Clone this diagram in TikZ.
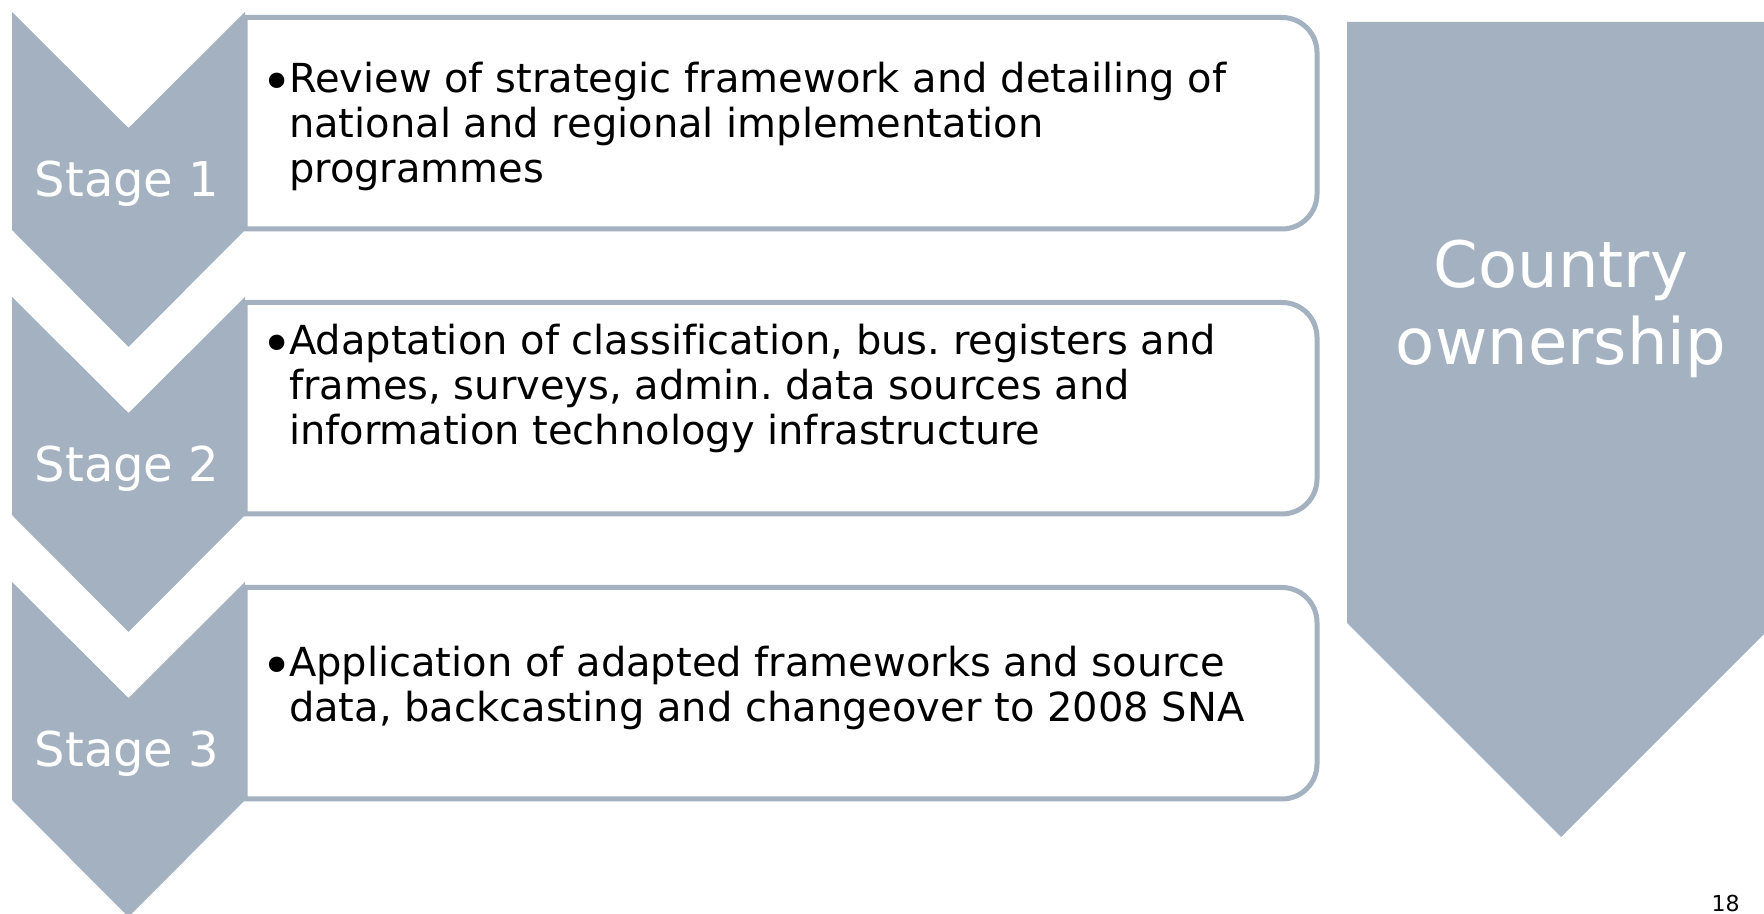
\documentclass[tikz,border=0pt]{standalone}
\usepackage{fontspec}
\setmainfont{DejaVu Sans}[Ligatures=NoCommon]
\usepackage{xcolor}
\usepackage{tikz}
\usetikzlibrary{positioning}
\definecolor{stagegrey}{HTML}{A3B1C1}
\definecolor{itemblack}{HTML}{000000}
\newcommand{\itembullet}{\makebox[11.8pt][l]{\hspace{-2pt}\raisebox{-4pt}{\fontsize{26.5}{0}\selectfont •}}}
\frenchspacing

\begin{document}
\begin{tikzpicture}[
    x=0.5pt, y=0.5pt,
    chev/.style={fill=stagegrey, draw=none},
    itembox/.style={draw=stagegrey, line width=2.5pt, fill=white},
    stagelabel/.style={anchor=base, inner sep=0pt, text=white, font=\fontsize{24}{28}\selectfont},
    itemtext/.style={anchor=base west, inner sep=0pt, text=itemblack, font=\fontsize{20}{22.5}\selectfont},
    ownerlabel/.style={anchor=base, inner sep=0pt, text=white, font=\fontsize{32}{38.5}\selectfont},
    pagenum/.style={anchor=base east, inner sep=0pt, text=black, font=\fontsize{11}{13}\selectfont}
]
\useasboundingbox (0,0) rectangle (1764,914);

% text boxes
\draw[itembox] (245,896.5) -- (1282,896.5) arc[start angle=90, end angle=0, radius=35]
    -- (1317,720) arc[start angle=0, end angle=-90, radius=35] -- (245,685) -- cycle;
\draw[itembox] (245,611.5) -- (1282,611.5) arc[start angle=90, end angle=0, radius=35]
    -- (1317,435) arc[start angle=0, end angle=-90, radius=35] -- (245,400) -- cycle;
\draw[itembox] (245,326.5) -- (1282,326.5) arc[start angle=90, end angle=0, radius=35]
    -- (1317,150) arc[start angle=0, end angle=-90, radius=35] -- (245,115) -- cycle;

% stage chevrons
\fill[chev] (12,902) -- (128.5,786) -- (245,902) -- (245,684) -- (128.5,567) -- (12,684) -- cycle;
\fill[chev] (12,617) -- (128.5,501) -- (245,617) -- (245,399) -- (128.5,282) -- (12,399) -- cycle;
\fill[chev] (12,332) -- (128.5,216) -- (245,332) -- (245,114) -- (128.5,-3) -- (12,114) -- cycle;

% ownership arrow
\fill[chev] (1347,892) -- (1775,892) -- (1775,291) -- (1561,77) -- (1347,291) -- cycle;

\node[stagelabel] (stage1) at (127,717) {Stage 1};
\node[stagelabel] (stage2) at (127,432) {Stage 2};
\node[stagelabel] (stage3) at (127,147) {Stage 3};

\node[itemtext] (item1) at (265,821) {\begin{tabular}[t]{@{}l@{}l@{}}
    \itembullet&Review of strategic framework and detailing of\\
    &national and regional implementation\\
    &programmes\end{tabular}};
\node[itemtext] (item2) at (265,559) {\begin{tabular}[t]{@{}l@{}l@{}}
    \itembullet&Adaptation of classification, bus. registers and\\
    &frames, surveys, admin. data sources and\\
    &information technology infrastructure\end{tabular}};
\node[itemtext] (item3) at (265,237) {\begin{tabular}[t]{@{}l@{}l@{}}
    \itembullet&Application of adapted frameworks and source\\
    &data, backcasting and changeover to 2008 SNA\end{tabular}};

\node[ownerlabel] (owner) at (1561,626) {\begin{tabular}[t]{@{}c@{}}Country\\ownership\end{tabular}};

\node[pagenum] (page) at (1740,3) {18};
\end{tikzpicture}
\end{document}
